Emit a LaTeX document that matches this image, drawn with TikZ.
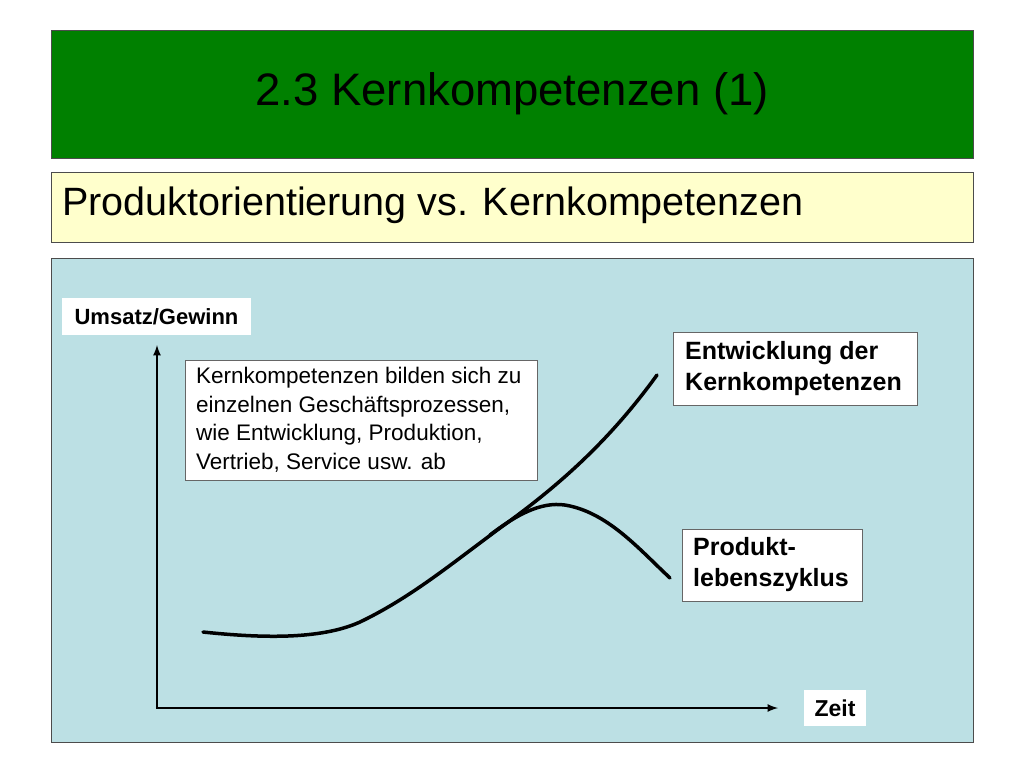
\documentclass[tikz,border=0pt]{standalone}
\usepackage{fontspec}
\setmainfont{Liberation Sans}
\begin{document}
\begin{tikzpicture}[x=1pt,y=-1pt,
  lbl/.style={draw=black!60,fill=white,inner sep=0pt,font=\bfseries\fontsize{22}{26}\selectfont,align=left},
  crv/.style={line width=3.5pt,line cap=round}]
\definecolor{tgreen}{RGB}{0,128,0}
\definecolor{tyel}{RGB}{255,255,204}
\definecolor{tblue}{RGB}{188,224,228}
\useasboundingbox (0,0) rectangle (1024,768);
\fill[white] (0,0) rectangle (1024,768);
\node[draw=black!70,fill=tgreen,minimum width=922pt,minimum height=128pt,anchor=north west,font=\fontsize{45.5}{50}\selectfont] (title) at (51,30) {2.3 Kernkompetenzen (1)};
\node[draw=black!70,fill=tyel,minimum width=922pt,minimum height=70pt,anchor=north west,inner sep=0pt] (sub) at (51,172) {};
\node[anchor=west,inner sep=0pt,font=\fontsize{39.5}{44}\selectfont] (subt) at (62,205) {Produktorientierung vs. Kernkompetenzen};
\node[draw=black!70,fill=tblue,minimum width=922pt,minimum height=484pt,anchor=north west] (panel) at (51,258) {};
\node[lbl,minimum width=189pt,minimum height=37pt,align=center,draw=none] (y) at (156.5,316.5) {Umsatz/Gewinn};
\node[lbl,minimum width=62pt,minimum height=36pt,align=center,draw=none,font=\bfseries\fontsize{23}{26}\selectfont] (x) at (835,708) {Zeit};
\coordinate (o) at (157,708);
\coordinate (ytip) at (157,345);
\coordinate (xtip) at (778,708);
\draw[line width=2.5pt,-latex] (o) -- (ytip);
\draw[line width=2.5pt,-latex] ([xshift=-1.2pt]o) -- (xtip);
\node[draw=black!60,fill=white,anchor=north west,minimum width=352pt,minimum height=120pt,inner sep=0pt] (note) at (185,360) {};
\node[anchor=north west,inner sep=0pt,align=left,font=\fontsize{22.5}{28.5}\selectfont] (notet) at (196,367) {Kernkompetenzen bilden sich zu\\einzelnen Geschäftsprozessen,\\wie Entwicklung, Produktion,\\Vertrieb, Service usw. ab};
\node[lbl,anchor=north west,minimum width=244pt,minimum height=73pt] (ent) at (673,332) {};
\node[anchor=west,inner sep=0pt,align=left,font=\bfseries\fontsize{25}{31}\selectfont] (entt) at (685,368.5) {Entwicklung der\\Kernkompetenzen};
\node[lbl,anchor=north west,minimum width=180pt,minimum height=72pt] (prod) at (682,529) {};
\node[anchor=west,inner sep=0pt,align=left,font=\bfseries\fontsize{25}{31}\selectfont] (prodt) at (693,565) {Produkt-\\lebenszyklus};
\draw[crv] (203,632) .. controls (260,638) and (320,640) .. (360,622)
  .. controls (410,598) and (450,565) .. (500,528)
  .. controls (560,485) and (610,440) .. (657,375);
\draw[crv] (490,535) .. controls (520,512) and (545,500) .. (570,506)
  .. controls (610,515) and (640,550) .. (670,578);
\end{tikzpicture}
\end{document}
